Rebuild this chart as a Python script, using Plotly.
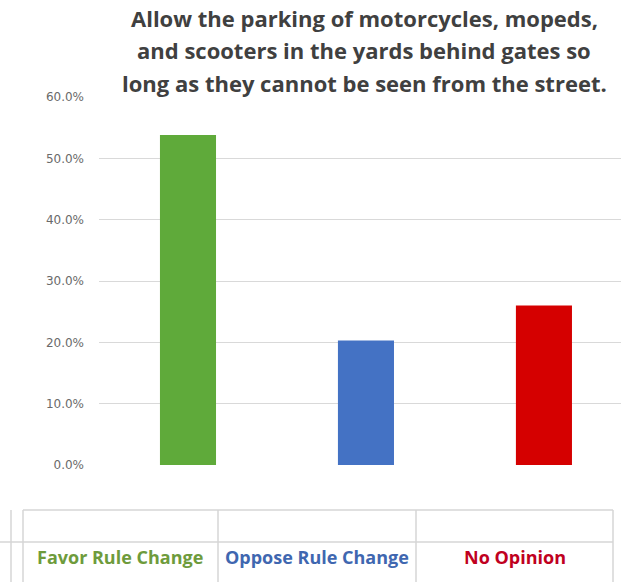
import plotly.graph_objects as go

categories = ["Favor Rule Change", "Oppose Rule Change", "No Opinion"]
values = [53.8, 20.3, 26.0]
bar_colors = ["#5FAA3A", "#4472C4", "#D50000"]
label_colors = ["#6E9B3C", "#3F67B0", "#C00020"]
title_lines = [
    "Allow the parking of motorcycles, mopeds,",
    "and scooters in the yards behind gates so",
    "long as they cannot be seen from the street.",
]
tick_vals = [0, 10, 20, 30, 40, 50, 60]

W, H = 621, 582
X0, X1 = 99, 621      # plot area left/right (px)
Y0, Y1 = 97, 465      # plot area top/bottom (px)

fig = go.Figure()
fig.add_trace(go.Bar(
    x=list(range(len(categories))), y=values,
    marker=dict(color=bar_colors, line=dict(width=0)),
    width=0.315, hoverinfo="skip",
))

fig.update_layout(
    width=W, height=H,
    margin=dict(l=X0, r=W - X1, t=Y0, b=H - Y1),
    paper_bgcolor="white", plot_bgcolor="white",
    showlegend=False,
    font=dict(family="Open Sans, sans-serif"),
    xaxis=dict(range=[-0.5, 2.433], showticklabels=False, showgrid=False,
               zeroline=False, showline=False, fixedrange=True),
    yaxis=dict(range=[0, 60], tickvals=tick_vals, ticktext=[f"{v:.1f}%" for v in tick_vals],
               showgrid=True, gridcolor="#D9D9D9", gridwidth=1,
               zeroline=False, showline=False,
               tickfont=dict(size=12, color="#6A6A6A", family="DejaVu Sans, sans-serif"),
               ticklabelstandoff=14, fixedrange=True),
)


def px_x(x):
    return (x - X0) / (X1 - X0)


def px_y(y):
    return (Y1 - y) / (Y1 - Y0)


# Title lines
for t, yy in zip(title_lines, [18, 50, 83]):
    fig.add_annotation(text=f"<b>{t}</b>", xref="paper", yref="paper",
                       x=px_x(364), y=px_y(yy),
                       xanchor="center", yanchor="middle", showarrow=False,
                       font=dict(size=22, color="#404040", family="Open Sans, sans-serif"))

# Data-table style area beneath the chart
line_style = dict(color="#D6D6D6", width=1.5)
fig.add_shape(type="line", xref="paper", yref="paper", x0=px_x(23), x1=px_x(613),
              y0=px_y(510), y1=px_y(510), line=line_style)
fig.add_shape(type="line", xref="paper", yref="paper", x0=px_x(0), x1=px_x(613),
              y0=px_y(542), y1=px_y(542), line=line_style)
for vx in [11, 23, 218, 416, 613]:
    fig.add_shape(type="line", xref="paper", yref="paper", x0=px_x(vx), x1=px_x(vx),
                  y0=px_y(510), y1=px_y(582), line=line_style)

for c, lab, col in zip([120, 317, 515], categories, label_colors):
    fig.add_annotation(text=f"<b>{lab}</b>", xref="paper", yref="paper",
                       x=px_x(c), y=px_y(557), xanchor="center", yanchor="middle",
                       showarrow=False,
                       font=dict(size=18, color=col, family="Open Sans, sans-serif"))

fig.write_html("out.html", config={"displayModeBar": False},
               post_script="document.body.style.margin='0';document.body.style.overflow='hidden';")
